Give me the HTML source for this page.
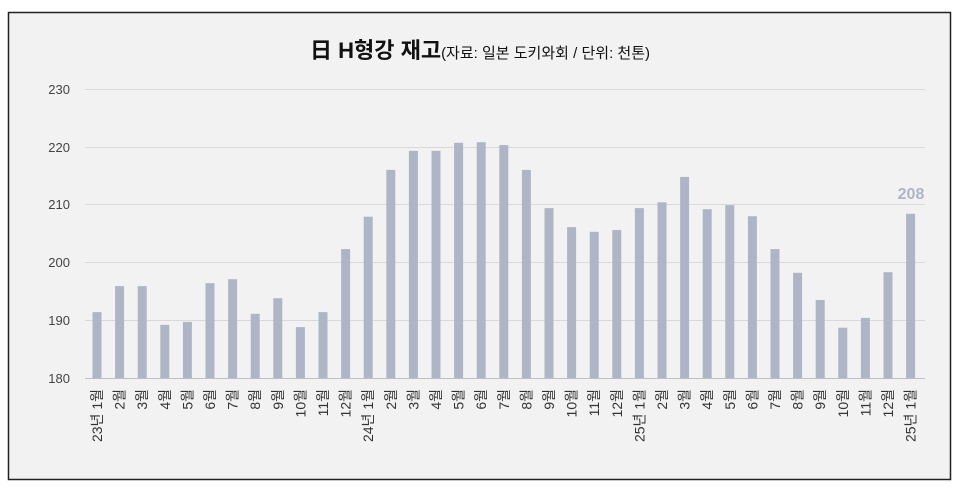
<!DOCTYPE html>
<html><head><meta charset="utf-8"><style>
html,body{margin:0;padding:0;background:#fff;}
svg{display:block;font-family:"Liberation Sans","Noto Sans CJK KR",sans-serif;}
</style></head><body>
<svg width="960" height="490" viewBox="0 0 960 490" xmlns="http://www.w3.org/2000/svg">
<rect x="8.5" y="12.5" width="942" height="467" fill="#f2f2f2" stroke="#222" stroke-width="1.5"/>
<text x="480" y="58" text-anchor="middle" fill="#111"><tspan font-size="22" font-weight="bold">日 H형강 재고</tspan><tspan font-size="15">(자료: 일본 도키와회 / 단위: 천톤)</tspan></text>
<g stroke="#d9d9d9" stroke-width="1">
<line x1="85" x2="925" y1="89.5" y2="89.5"/><line x1="85" x2="925" y1="147.5" y2="147.5"/>
<line x1="85" x2="925" y1="204.5" y2="204.5"/><line x1="85" x2="925" y1="262.5" y2="262.5"/>
<line x1="85" x2="925" y1="320.5" y2="320.5"/>
</g>
<line x1="85" x2="925" y1="378.5" y2="378.5" stroke="#bfbfbf"/>
<g font-size="13" fill="#444" text-anchor="end">
<text x="70" y="94">230</text><text x="70" y="152">220</text><text x="70" y="209">210</text>
<text x="70" y="267">200</text><text x="70" y="325">190</text><text x="70" y="383">180</text>
</g>
<g fill="#adb5c7">
<rect x="92.5" y="312.1" width="9" height="65.9"/>
<rect x="115.1" y="286.1" width="9" height="91.9"/>
<rect x="137.7" y="286.1" width="9" height="91.9"/>
<rect x="160.3" y="324.8" width="9" height="53.2"/>
<rect x="182.9" y="321.9" width="9" height="56.1"/>
<rect x="205.5" y="283.2" width="9" height="94.8"/>
<rect x="228.1" y="279.2" width="9" height="98.8"/>
<rect x="250.7" y="313.8" width="9" height="64.2"/>
<rect x="273.3" y="298.2" width="9" height="79.8"/>
<rect x="295.9" y="327.1" width="9" height="50.9"/>
<rect x="318.5" y="312.1" width="9" height="65.9"/>
<rect x="341.1" y="249.1" width="9" height="128.9"/>
<rect x="363.7" y="216.7" width="9" height="161.3"/>
<rect x="386.3" y="169.9" width="9" height="208.1"/>
<rect x="408.9" y="150.8" width="9" height="227.2"/>
<rect x="431.5" y="150.8" width="9" height="227.2"/>
<rect x="454.1" y="142.8" width="9" height="235.2"/>
<rect x="476.7" y="142.2" width="9" height="235.8"/>
<rect x="499.3" y="145.1" width="9" height="232.9"/>
<rect x="521.9" y="169.9" width="9" height="208.1"/>
<rect x="544.5" y="208.1" width="9" height="169.9"/>
<rect x="567.1" y="227.1" width="9" height="150.9"/>
<rect x="589.7" y="231.8" width="9" height="146.2"/>
<rect x="612.3" y="230" width="9" height="148"/>
<rect x="634.9" y="208.1" width="9" height="169.9"/>
<rect x="657.5" y="202.3" width="9" height="175.7"/>
<rect x="680.1" y="176.9" width="9" height="201.1"/>
<rect x="702.7" y="209.2" width="9" height="168.8"/>
<rect x="725.3" y="205.2" width="9" height="172.8"/>
<rect x="747.9" y="216.2" width="9" height="161.8"/>
<rect x="770.5" y="249.1" width="9" height="128.9"/>
<rect x="793.1" y="272.8" width="9" height="105.2"/>
<rect x="815.7" y="300" width="9" height="78"/>
<rect x="838.3" y="327.7" width="9" height="50.3"/>
<rect x="860.9" y="317.9" width="9" height="60.1"/>
<rect x="883.5" y="272.2" width="9" height="105.8"/>
<rect x="906.1" y="213.8" width="9" height="164.2"/>
</g>
<g font-size="14" fill="#333" text-anchor="end">
<text transform="translate(102,389) rotate(-90)">23년 1월</text>
<text transform="translate(124.6,389) rotate(-90)">2월</text>
<text transform="translate(147.2,389) rotate(-90)">3월</text>
<text transform="translate(169.8,389) rotate(-90)">4월</text>
<text transform="translate(192.4,389) rotate(-90)">5월</text>
<text transform="translate(215,389) rotate(-90)">6월</text>
<text transform="translate(237.6,389) rotate(-90)">7월</text>
<text transform="translate(260.2,389) rotate(-90)">8월</text>
<text transform="translate(282.8,389) rotate(-90)">9월</text>
<text transform="translate(305.4,389) rotate(-90)">10월</text>
<text transform="translate(328,389) rotate(-90)">11월</text>
<text transform="translate(350.6,389) rotate(-90)">12월</text>
<text transform="translate(373.2,389) rotate(-90)">24년 1월</text>
<text transform="translate(395.8,389) rotate(-90)">2월</text>
<text transform="translate(418.4,389) rotate(-90)">3월</text>
<text transform="translate(441,389) rotate(-90)">4월</text>
<text transform="translate(463.6,389) rotate(-90)">5월</text>
<text transform="translate(486.2,389) rotate(-90)">6월</text>
<text transform="translate(508.8,389) rotate(-90)">7월</text>
<text transform="translate(531.4,389) rotate(-90)">8월</text>
<text transform="translate(554,389) rotate(-90)">9월</text>
<text transform="translate(576.6,389) rotate(-90)">10월</text>
<text transform="translate(599.2,389) rotate(-90)">11월</text>
<text transform="translate(621.8,389) rotate(-90)">12월</text>
<text transform="translate(644.4,389) rotate(-90)">25년 1월</text>
<text transform="translate(667,389) rotate(-90)">2월</text>
<text transform="translate(689.6,389) rotate(-90)">3월</text>
<text transform="translate(712.2,389) rotate(-90)">4월</text>
<text transform="translate(734.8,389) rotate(-90)">5월</text>
<text transform="translate(757.4,389) rotate(-90)">6월</text>
<text transform="translate(780,389) rotate(-90)">7월</text>
<text transform="translate(802.6,389) rotate(-90)">8월</text>
<text transform="translate(825.2,389) rotate(-90)">9월</text>
<text transform="translate(847.8,389) rotate(-90)">10월</text>
<text transform="translate(870.4,389) rotate(-90)">11월</text>
<text transform="translate(893,389) rotate(-90)">12월</text>
<text transform="translate(915.6,389) rotate(-90)">25년 1월</text>
</g>
<text x="911" y="199" text-anchor="middle" font-size="16" font-weight="bold" fill="#adb5c7">208</text>
</svg>
</body></html>
